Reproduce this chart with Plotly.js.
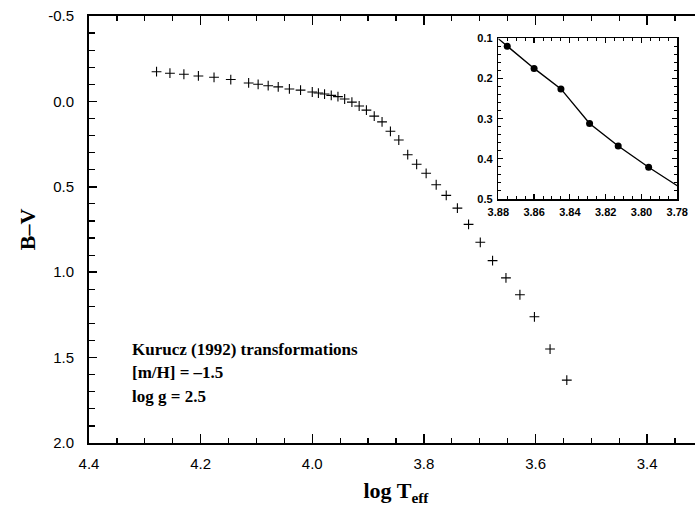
<!DOCTYPE html>
<html>
<head>
<meta charset="utf-8">
<script src="https://cdn.plot.ly/plotly-3.0.1.min.js"></script>
<style>
  html, body { margin: 0; padding: 0; background: #fff; overflow: hidden; }
  #chart { width: 710px; height: 525px; }
</style>
</head>
<body>
<div id="chart"></div>
<script>
// Kurucz (1992) colour calibration, [m/H] = -1.5, log g = 2.5
const logTeff = [
  4.279, 4.255, 4.230, 4.204, 4.176, 4.146, 4.114, 4.097, 4.079, 4.061,
  4.041, 4.021, 4.000, 3.989, 3.978, 3.966, 3.954, 3.942, 3.929, 3.916,
  3.903, 3.889, 3.875, 3.860, 3.845, 3.829, 3.813, 3.796, 3.778, 3.760,
  3.740, 3.720, 3.699, 3.677, 3.653, 3.628, 3.602, 3.574, 3.544
];
const bv = [
  -0.174, -0.165, -0.159, -0.149, -0.141, -0.128, -0.108, -0.100, -0.092, -0.085,
  -0.073, -0.066, -0.055, -0.049, -0.043, -0.035, -0.028, -0.014, 0.004, 0.027,
  0.051, 0.086, 0.120, 0.175, 0.226, 0.312, 0.368, 0.421, 0.488, 0.550,
  0.625, 0.720, 0.825, 0.932, 1.033, 1.132, 1.261, 1.450, 1.632
];

// Inset window: the points that fall inside it, plus the curve ends at the frame
const insetRangeT = [3.88, 3.78];
const insetRangeBV = [0.5, 0.1];
const curveStartT = 3.880, curveStartBV = 0.101;
const curveEndT = 3.780, curveEndBV = 0.467;

// Axis tick labels
const mainYTicks = [-0.5, 0.0, 0.5, 1.0, 1.5, 2.0];
const mainYText = ["-0.5", "0.0", "0.5", "1.0", "1.5", "2.0"];
const mainXTicks = [4.4, 4.2, 4.0, 3.8, 3.6, 3.4];
const mainXText = ["4.4", "4.2", "4.0", "3.8", "3.6", "3.4"];
const insetXTicks = [3.88, 3.86, 3.84, 3.82, 3.80, 3.78];
const insetXText = ["3.88", "3.86", "3.84", "3.82", "3.80", "3.78"];
const insetYTicks = [0.1, 0.2, 0.3, 0.4, 0.5];
const insetYText = ["0.1", "0.2", "0.3", "0.4", "0.5"];

const inT = [], inBV = [];
logTeff.forEach((t, i) => {
  if (t <= insetRangeT[0] && t >= insetRangeT[1]) { inT.push(t); inBV.push(bv[i]); }
});
const curveT = [curveStartT].concat(inT, [curveEndT]);
const curveBV = [curveStartBV].concat(inBV, [curveEndBV]);

const traces = [
  {
    x: logTeff, y: bv, type: 'scatter', mode: 'markers',
    marker: { symbol: 'cross-thin', size: 7, line: { width: 1.1, color: '#000' }, color: '#000' },
    xaxis: 'x', yaxis: 'y', hoverinfo: 'x+y'
  },
  {
    x: curveT, y: curveBV, type: 'scatter', mode: 'lines',
    line: { color: '#000', width: 1.4 },
    xaxis: 'x2', yaxis: 'y2', hoverinfo: 'skip'
  },
  {
    x: inT, y: inBV, type: 'scatter', mode: 'markers',
    marker: { symbol: 'circle', size: 7, color: '#000' },
    xaxis: 'x2', yaxis: 'y2'
  }
];

const axisFont = { family: 'Liberation Sans, Arial, sans-serif', size: 15, color: '#000' };
const insetFont = { family: 'Liberation Sans, Arial, sans-serif', size: 11, color: '#000', weight: 'bold' };
const serifBold = { family: 'Liberation Serif, Times New Roman, serif', size: 17, color: '#000', weight: 'bold' };

const layout = {
  width: 710, height: 525,
  margin: { l: 89, r: 7, t: 16, b: 82 },
  paper_bgcolor: '#fff', plot_bgcolor: '#fff',
  showlegend: false,
  xaxis: {
    range: [4.4, 3.3], autorange: false,
    tickmode: 'array', tickvals: mainXTicks, ticktext: mainXText,
    ticks: 'inside', ticklen: 9, tickwidth: 1.5, tickcolor: '#000',
    minor: { tickmode: 'linear', tick0: 4.4, dtick: 0.05, ticks: 'inside', ticklen: 5, tickwidth: 1.2, tickcolor: '#000' },
    showline: true, linecolor: '#000', linewidth: 2, mirror: 'allticks',
    showgrid: false, zeroline: false,
    tickfont: axisFont, ticklabelstandoff: 6,
    title: { text: 'log T<sub>eff</sub>', font: { family: 'Liberation Serif, Times New Roman, serif', size: 22, color: '#000', weight: 'bold' }, standoff: 12 }
  },
  yaxis: {
    range: [2.0, -0.5], autorange: false,
    tickmode: 'array', tickvals: mainYTicks, ticktext: mainYText,
    ticks: 'inside', ticklen: 8, tickwidth: 1.5, tickcolor: '#000',
    minor: { tickmode: 'linear', tick0: -0.5, dtick: 0.1, ticks: 'inside', ticklen: 6, tickwidth: 1.2, tickcolor: '#000' },
    showline: true, linecolor: '#000', linewidth: 2, mirror: 'allticks',
    showgrid: false, zeroline: false,
    tickfont: axisFont, ticklabelstandoff: 10,
    title: { text: 'B–V', font: { family: 'Liberation Serif, Times New Roman, serif', size: 22, color: '#000', weight: 'bold' }, standoff: 6 }
  },
  xaxis2: {
    domain: [0.6666, 0.9581], anchor: 'y2',
    range: insetRangeT, autorange: false,
    tickmode: 'array', tickvals: insetXTicks, ticktext: insetXText,
    ticks: 'inside', ticklen: 5, tickwidth: 1.2, tickcolor: '#000',
    minor: { tickmode: 'linear', tick0: 3.78, dtick: 0.005, ticks: 'inside', ticklen: 3, tickwidth: 1, tickcolor: '#000' },
    showline: true, linecolor: '#000', linewidth: 1.5, mirror: 'allticks',
    showgrid: false, zeroline: false,
    tickfont: insetFont, ticklabelstandoff: 2
  },
  yaxis2: {
    domain: [0.5714, 0.9478], anchor: 'x2',
    range: insetRangeBV, autorange: false,
    tickmode: 'array', tickvals: insetYTicks, ticktext: insetYText,
    ticks: 'inside', ticklen: 5, tickwidth: 1.2, tickcolor: '#000',
    minor: { tickmode: 'linear', tick0: 0.1, dtick: 0.02, ticks: 'inside', ticklen: 3, tickwidth: 1, tickcolor: '#000' },
    showline: true, linecolor: '#000', linewidth: 1.5, mirror: 'allticks',
    showgrid: false, zeroline: false,
    tickfont: insetFont, ticklabelstandoff: 2
  },
  annotations: [
    { text: 'Kurucz (1992) transformations', xref: 'paper', yref: 'paper', x: 0.0668, y: 0.2178, xanchor: 'left', yanchor: 'middle', showarrow: false, font: serifBold },
    { text: '[m/H] = –1.5', xref: 'paper', yref: 'paper', x: 0.0668, y: 0.164, xanchor: 'left', yanchor: 'middle', showarrow: false, font: serifBold },
    { text: 'log g = 2.5', xref: 'paper', yref: 'paper', x: 0.0668, y: 0.110, xanchor: 'left', yanchor: 'middle', showarrow: false, font: serifBold }
  ]
};

Plotly.newPlot('chart', traces, layout, { displayModeBar: false, staticPlot: true });
</script>
</body>
</html>
